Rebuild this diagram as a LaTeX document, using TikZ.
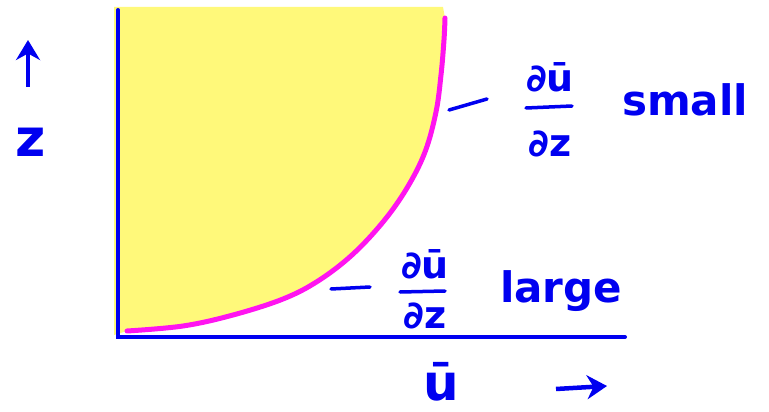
\documentclass[tikz,border=0pt]{standalone}
\usepackage{fontspec}
\setsansfont{DejaVu Sans}
\usetikzlibrary{arrows.meta}
\definecolor{hblue}{RGB}{0,0,240}
\definecolor{hyellow}{RGB}{255,249,122}
\definecolor{hmag}{RGB}{255,20,240}
\tikzset{
  hand/.style={text=hblue, font=\sffamily\bfseries\fontsize{42}{42}\selectfont, inner sep=0pt},
  fracpart/.style={text=hblue, font=\sffamily\bfseries\fontsize{38}{38}\selectfont, inner sep=0pt},
  fracbar/.style={draw=hblue, line width=3.5pt, line cap=round},
  axis/.style={draw=hblue, line width=4pt, line cap=round},
  tick/.style={draw=hblue, line width=3.5pt, line cap=round},
  harrow/.style={draw=hblue, line width=4.5pt, -{Stealth[length=20pt,width=24pt]}},
  profile/.style={draw=hmag, line width=5pt, line cap=round}
}
\newcommand{\profilepts}{(445,18) (444,40) (441,75) (436,112) (425,152) (407,188) (383,222) (352,255) (318,281) (283,299) (233,315) (183,326) (127,331)}
\begin{document}
\begin{tikzpicture}[x=1pt,y=-1pt]
\useasboundingbox (0,0) rectangle (769,412);
% shaded region
\fill[hyellow] (114,7) -- (443,7) -- (445,18)
  -- plot[smooth, tension=0.6] coordinates {\profilepts}
  -- (114,335) -- cycle;
% axes
\coordinate (o) at (118,337);
\coordinate (ztop) at (118,10);
\coordinate (uend) at (625,337);
\draw[axis] (ztop) -- (o) -- (uend);
% profile
\draw[profile] plot[smooth, tension=0.6] coordinates {\profilepts};
% axis labels
\coordinate (za) at (28,87);
\coordinate (zb) at (28,40);
\draw[harrow] (za) -- (zb);
\node[hand, anchor=base west, font=\sffamily\bfseries\fontsize{52}{52}\selectfont] (zlab) at (15,156) {z};
\node[hand, anchor=base west, font=\sffamily\bfseries\fontsize{50}{50}\selectfont] (ulab) at (423,400) {ū};
\coordinate (ua) at (556,389);
\coordinate (ub) at (607,386);
\draw[harrow] (ua) -- (ub);
% small gradient
\node[fracpart, anchor=base] (fsn) at (550,92) {∂ū};
\node[fracpart, anchor=base] (fsd) at (550,156) {∂z};
\coordinate (fsl) at (526,108);
\coordinate (fsr) at (572,106);
\draw[fracbar] (fsl) -- (fsr);
\node[hand, anchor=base west] (small) at (622,115) {small};
\coordinate (ta) at (449,110);
\coordinate (tb) at (487,99);
\draw[tick] (ta) -- (tb);
% large gradient
\node[fracpart, anchor=base] (fln) at (425,278) {∂ū};
\node[fracpart, anchor=base] (fld) at (425,328) {∂z};
\coordinate (fll) at (400,292);
\coordinate (flr) at (445,291);
\draw[fracbar] (fll) -- (flr);
\node[hand, anchor=base west] (large) at (500,302) {large};
\coordinate (la) at (331,289);
\coordinate (lb) at (370,287);
\draw[tick] (la) -- (lb);
\end{tikzpicture}
\end{document}
